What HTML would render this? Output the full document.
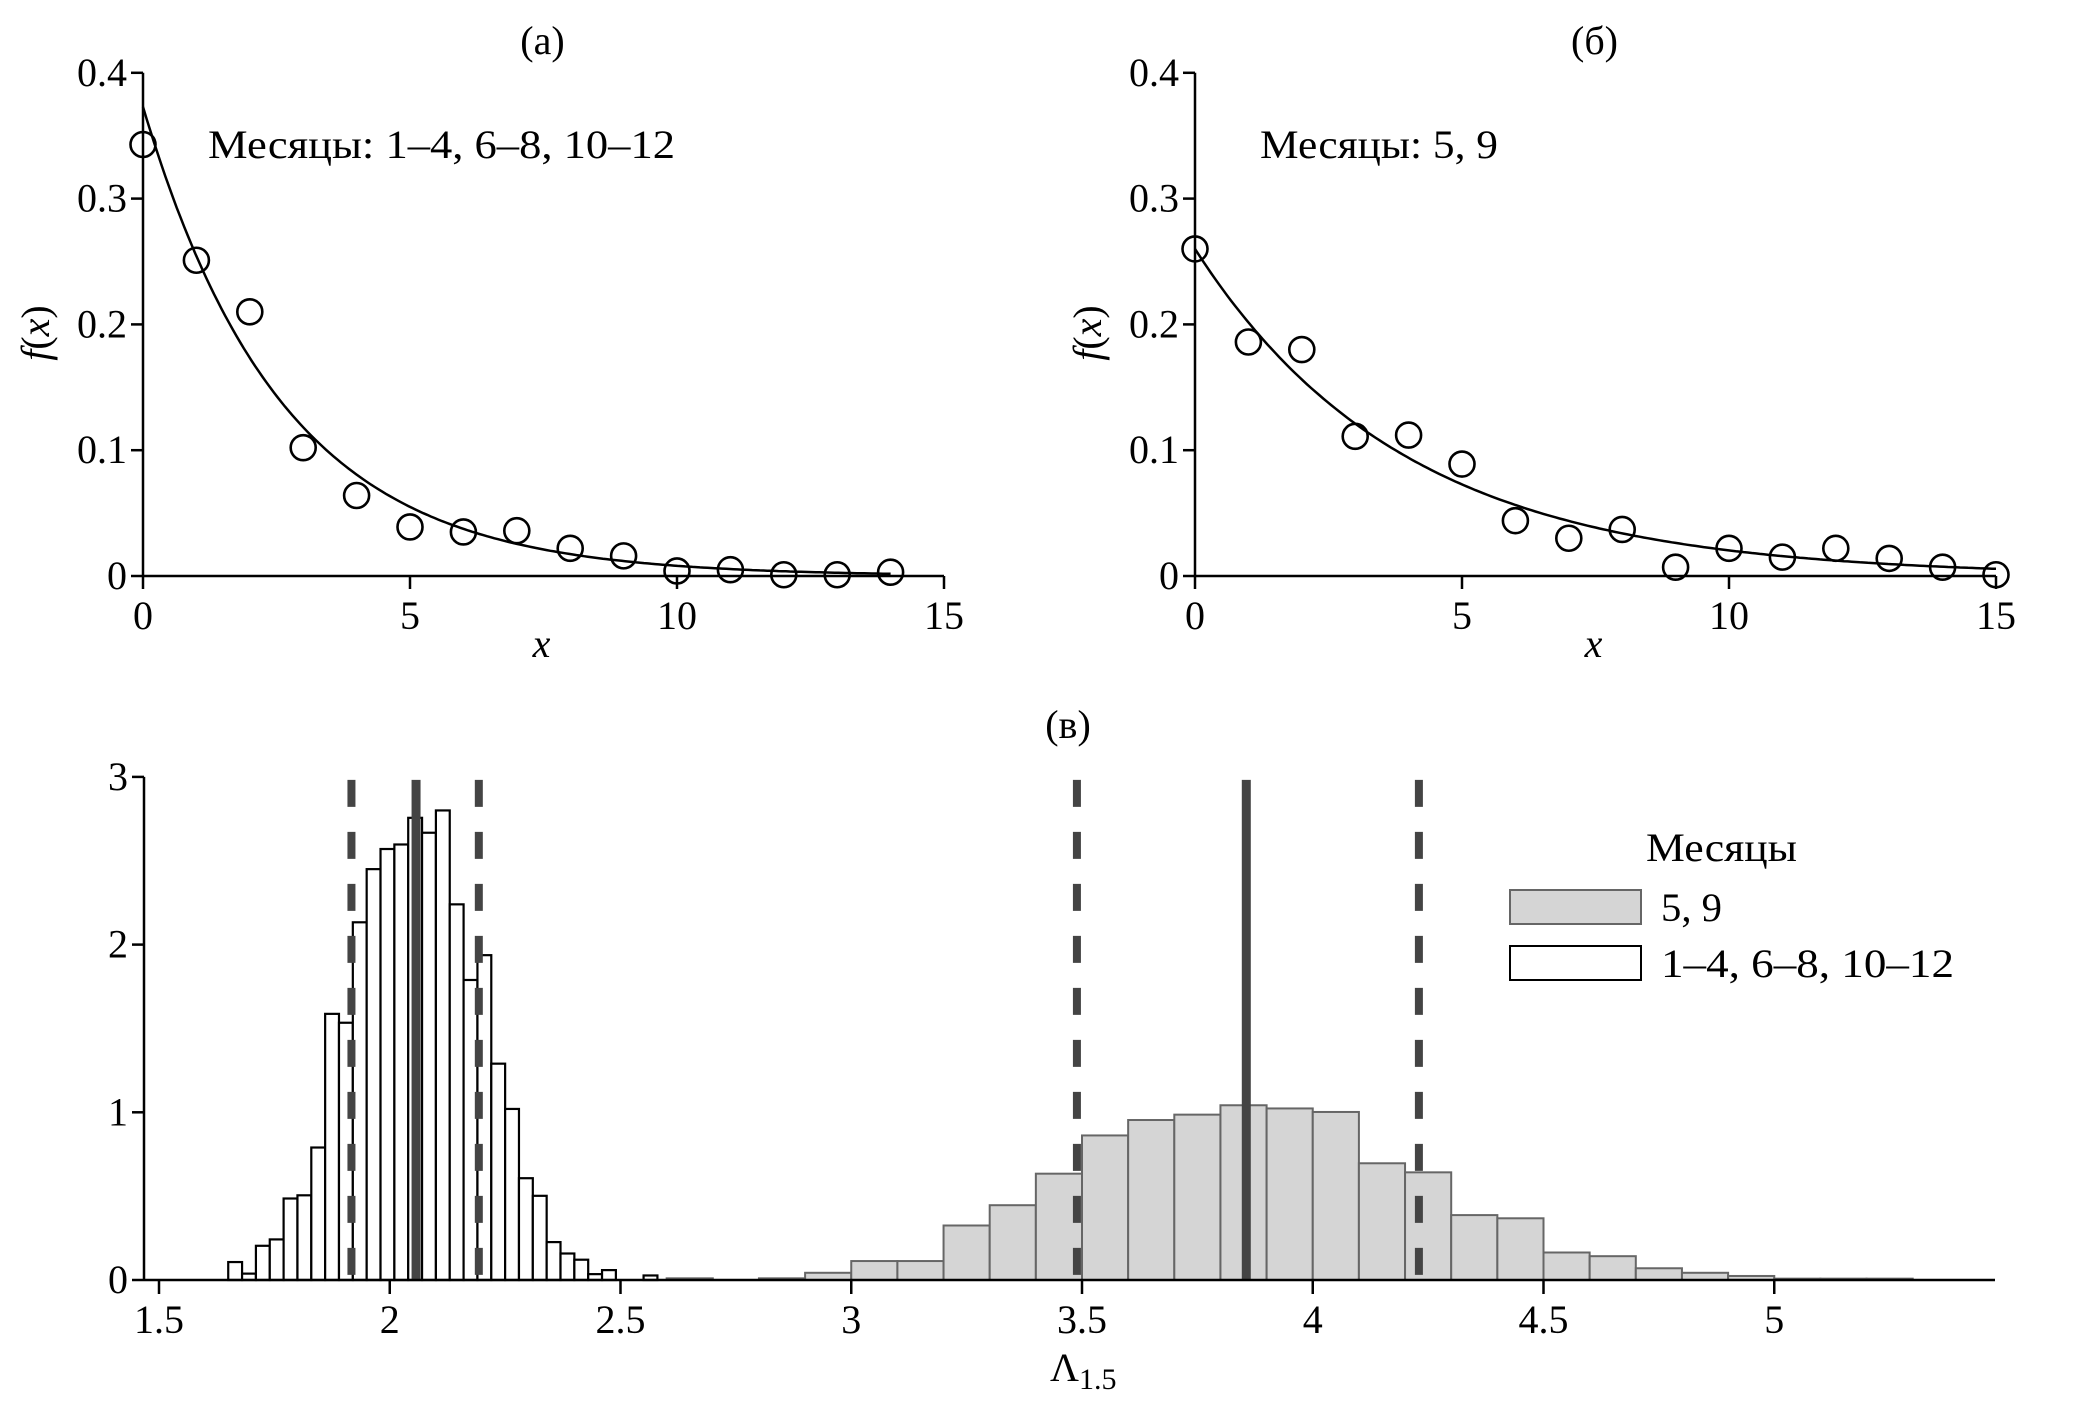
<!DOCTYPE html>
<html><head><meta charset="utf-8"><style>
html,body{margin:0;padding:0;background:#fff}
svg{display:block}
text{font-family:"Liberation Serif","Noto Serif CJK SC",serif;fill:#000}
</style></head><body>
<svg id="fig" width="2073" height="1407" viewBox="0 0 2073 1407" xmlns="http://www.w3.org/2000/svg">
<g id="pa"></g>
<g id="pb"></g>
<g id="pc"></g>
</svg>
<script>
// Panel (a) data
const aX = [0,1,2,3,4,5,6,7,8,9,10,11,12,13,14];
const aY = [0.343,0.251,0.210,0.102,0.064,0.039,0.035,0.036,0.022,0.016,0.004,0.005,0.001,0.001,0.003];
const aFit = [0.373, 0.383, 14]; // amplitude, rate, xmax
// Panel (b) data
const bX = [0,1,2,3,4,5,6,7,8,9,10,11,12,13,14,15];
const bY = [0.260,0.186,0.180,0.111,0.112,0.089,0.044,0.030,0.037,0.007,0.022,0.015,0.022,0.014,0.007,0.001];
const bFit = [0.260, 0.2546, 15];
const topXTicks = [0,5,10,15];
const topYTicks = [0,0.1,0.2,0.3,0.4];
const topYLabels = ["0","0.1","0.2","0.3","0.4"];
// Panel (c) histograms
const whiteStart = 1.65, whiteWidth = 0.03;
const whiteH = [0.107,0.038,0.204,0.242,0.486,0.505,0.79,1.587,1.534,2.133,2.45,2.57,2.597,2.756,2.667,2.80,2.24,1.789,1.937,1.29,1.02,0.607,0.502,0.226,0.158,0.121,0.035,0.059,0,0,0.027];
const grayStart = 2.6, grayWidth = 0.1;
const grayH = [0.01,0,0.01,0.043,0.113,0.113,0.325,0.446,0.634,0.862,0.954,0.986,1.042,1.023,1.002,0.696,0.642,0.387,0.368,0.164,0.142,0.07,0.043,0.024,0.008,0.008,0.008];
const solidLines = [2.057,3.856];
const dashedLines = [1.917,2.193,3.489,4.230];
const cXTicks = [1.5,2,2.5,3,3.5,4,4.5,5];
const cXLabels = ["1.5","2","2.5","3","3.5","4","4.5","5"];
const cYTicks = [0,1,2,3];

const NS="http://www.w3.org/2000/svg";
function mk(parent,tag,attrs,txt){const e=document.createElementNS(NS,tag);for(const k in attrs)e.setAttribute(k,attrs[k]);if(txt!==undefined)e.textContent=txt;parent.appendChild(e);return e;}

function topPanel(g, ox, X, Y, fit, title, note, noteLen){
  const sx=v=>ox+v*53.4, sy=v=>576-v*1258;
  let e;
  e=mk(g,'line',{x1:ox,y1:sy(0.4),x2:ox,y2:sy(0),stroke:'#000','stroke-width':2.5});
  
  
  e=mk(g,'line',{x1:ox,y1:576,x2:sx(15),y2:576,stroke:'#000','stroke-width':2.5});
  
  
  topXTicks.forEach(t=>{
    e=mk(g,'line',{x1:sx(t),y1:576,x2:sx(t),y2:589,stroke:'#000','stroke-width':2.5});
    
    
    e=mk(g,'text',{x:sx(t),y:629,'font-size':40,'text-anchor':'middle'},String(t));
    
    
  });
  topYTicks.forEach((t,i)=>{
    e=mk(g,'line',{x1:ox-12,y1:sy(t),x2:ox,y2:sy(t),stroke:'#000','stroke-width':2.5});
    
    
    e=mk(g,'text',{x:ox-16,y:sy(t)+13,'font-size':40,'text-anchor':'end'},topYLabels[i]);
    
    
  });
  let d='';
  for(let i=0;i<=200;i++){const x=fit[2]*i/200;d+=(i?'L':'M')+sx(x).toFixed(1)+' '+sy(fit[0]*Math.exp(-fit[1]*x)).toFixed(1);}
  e=mk(g,'path',{d:d,fill:'none',stroke:'#000','stroke-width':2.5});
  
  
  X.forEach((x,i)=>{
    e=mk(g,'circle',{cx:sx(x),cy:sy(Y[i]),r:12.5,fill:'none',stroke:'#000','stroke-width':2.6});
    
    
  });
  e=mk(g,'text',{x:sx(7.5)-1,y:54,'font-size':40,'text-anchor':'middle'},title);
  
  
  e=mk(g,'text',{x:ox+65,y:158,'font-size':40,textLength:noteLen,lengthAdjust:'spacingAndGlyphs'},note);
  
  
  e=mk(g,'text',{x:sx(7.5)-2,y:657,'font-size':40,'font-style':'italic','text-anchor':'middle'},'x');
  
  
  e=mk(g,'text',{x:0,y:0,'font-size':40,'text-anchor':'middle',transform:`translate(${ox-94},333) rotate(-90)`});
  
  
  mk(e,'tspan',{'font-style':'italic'},'f');
  mk(e,'tspan',{},'(');
  mk(e,'tspan',{'font-style':'italic'},'x');
  mk(e,'tspan',{},')');
}
topPanel(document.getElementById('pa'),143,aX,aY,aFit,'(a)','Месяцы: 1–4, 6–8, 10–12',467);
topPanel(document.getElementById('pb'),1195,bX,bY,bFit,'(б)','Месяцы: 5, 9',238);

(function(){
  const g=document.getElementById('pc');
  const sx=v=>159+(v-1.5)*461.5, sy=v=>1280-v*167.7;
  let e;
  grayH.forEach((h,i)=>{
    if(h<=0)return;
    const x0=grayStart+i*grayWidth;
    e=mk(g,'rect',{x:sx(x0),y:sy(h),width:sx(x0+grayWidth)-sx(x0),height:1280-sy(h),fill:'#d5d5d5',stroke:'#666','stroke-width':2});
    
    
  });
  whiteH.forEach((h,i)=>{
    if(h<=0)return;
    const x0=whiteStart+i*whiteWidth;
    e=mk(g,'rect',{x:sx(x0),y:sy(h),width:sx(x0+whiteWidth)-sx(x0),height:1280-sy(h),fill:'#fff',stroke:'#000','stroke-width':2.2});
    
    
  });
  dashedLines.forEach(v=>{
    e=mk(g,'line',{x1:sx(v),y1:sy(3)+3,x2:sx(v),y2:1280,stroke:'#444','stroke-width':8,'stroke-dasharray':'27 25'});
    
    
  });
  solidLines.forEach(v=>{
    e=mk(g,'line',{x1:sx(v),y1:sy(3)+3,x2:sx(v),y2:1280,stroke:'#444','stroke-width':9});
    
    
  });
  e=mk(g,'line',{x1:144,y1:sy(3),x2:144,y2:1280,stroke:'#000','stroke-width':2.5});
  
  
  e=mk(g,'line',{x1:144,y1:1280,x2:1995,y2:1280,stroke:'#000','stroke-width':2.5});
  
  
  cXTicks.forEach((t,i)=>{
    e=mk(g,'line',{x1:sx(t),y1:1280,x2:sx(t),y2:1294,stroke:'#000','stroke-width':2.5});
    
    
    e=mk(g,'text',{x:sx(t),y:1333,'font-size':40,'text-anchor':'middle'},cXLabels[i]);
    
    
  });
  cYTicks.forEach(t=>{
    e=mk(g,'line',{x1:132,y1:sy(t),x2:144,y2:sy(t),stroke:'#000','stroke-width':2.5});
    
    
    e=mk(g,'text',{x:128,y:sy(t)+13,'font-size':40,'text-anchor':'end'},String(t));
    
    
  });
  e=mk(g,'text',{x:1068,y:738,'font-size':40,'text-anchor':'middle'},'(в)');
  
  
  e=mk(g,'text',{x:1050,y:1381,'font-size':40});
  
  
  mk(e,'tspan',{},'Λ');
  mk(e,'tspan',{'font-size':30,dy:8},'1.5');
  e=mk(g,'text',{x:1646,y:861,'font-size':40,textLength:151,lengthAdjust:'spacingAndGlyphs'},'Месяцы');
  
  
  e=mk(g,'rect',{x:1510,y:890,width:131,height:34,fill:'#d5d5d5',stroke:'#666','stroke-width':2});
  
  
  e=mk(g,'text',{x:1661,y:921,'font-size':40,textLength:61,lengthAdjust:'spacingAndGlyphs'},'5, 9');
  
  
  e=mk(g,'rect',{x:1510,y:946,width:131,height:34,fill:'#fff',stroke:'#000','stroke-width':2});
  
  
  e=mk(g,'text',{x:1661,y:977,'font-size':40,textLength:293,lengthAdjust:'spacingAndGlyphs'},'1–4, 6–8, 10–12');
  
  
})();
</script>
</body></html>
